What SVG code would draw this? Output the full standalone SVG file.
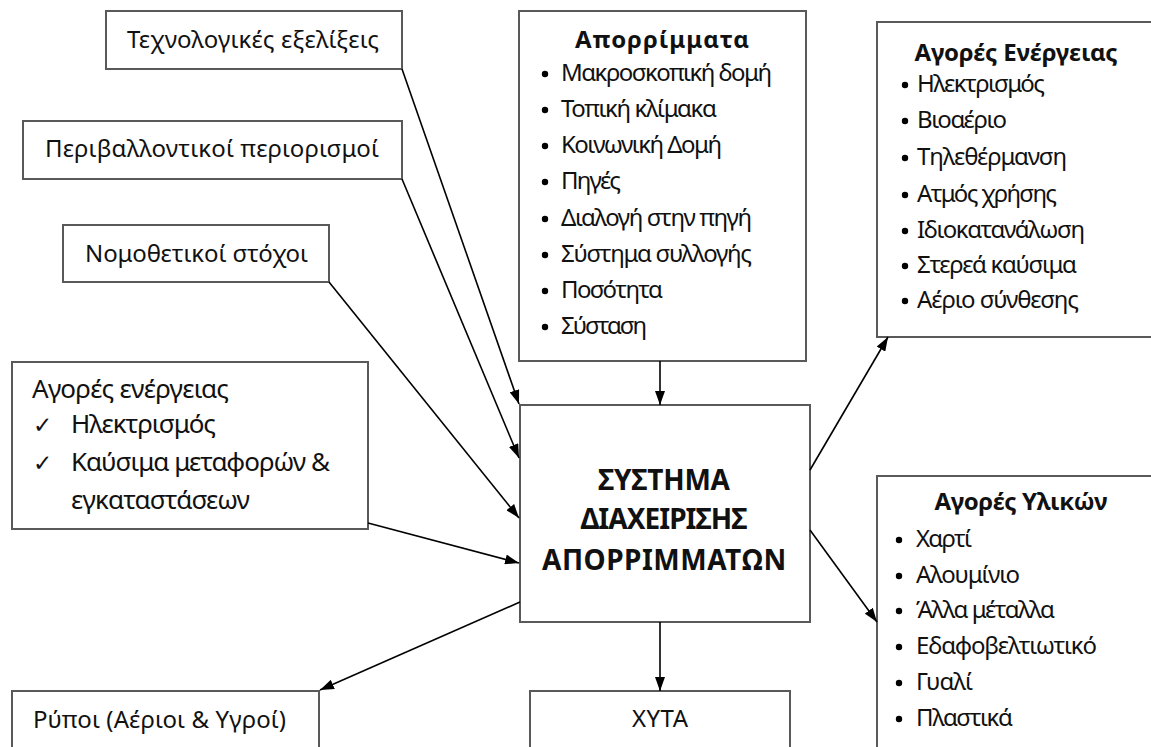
<svg xmlns="http://www.w3.org/2000/svg" width="1151" height="747" viewBox="0 0 1151 747">
<style>
.box{fill:#fff;stroke:#595959;stroke-width:2}
.t{font-family:"Noto Sans","DejaVu Sans",sans-serif;font-size:24px;fill:#111}
.b{font-family:"Noto Sans","DejaVu Sans",sans-serif;font-size:24px;font-weight:bold;fill:#111}
.c{font-family:"Noto Sans","DejaVu Sans",sans-serif;font-size:28px;font-weight:bold;fill:#111}
.l{font-family:"Noto Sans","DejaVu Sans",sans-serif;font-size:26px;fill:#111}
.ck{font-family:"DejaVu Sans",sans-serif;font-size:23px;fill:#111}
.con{stroke:#000;stroke-width:1.6;fill:none;marker-end:url(#ah)}
.dot{fill:#000}
</style>
<defs>
<marker id="ah" viewBox="0 0 14 10" refX="14" refY="5" markerWidth="14" markerHeight="10" markerUnits="userSpaceOnUse" orient="auto">
<path d="M0,0 L14,5 L0,10 z" fill="#000"/>
</marker>
</defs>
<rect width="1151" height="747" fill="#fff"/>

<g id="tech">
<rect class="box" x="106" y="11" width="296" height="58"/>
<text class="t" x="127" y="48" textLength="252" lengthAdjust="spacing">Τεχνολογικές εξελίξεις</text>
</g>
<g id="env">
<rect class="box" x="23" y="121" width="379" height="58"/>
<text class="t" x="45" y="157" textLength="334" lengthAdjust="spacing">Περιβαλλοντικοί περιορισμοί</text>
</g>
<g id="law">
<rect class="box" x="63" y="225" width="266" height="57"/>
<text class="t" x="85" y="262" textLength="223" lengthAdjust="spacing">Νομοθετικοί στόχοι</text>
</g>

<g id="waste">
<rect class="box" x="519" y="11" width="287" height="350"/>
<text class="b" x="662" y="48" text-anchor="middle" textLength="174" lengthAdjust="spacing">Απορρίμματα</text>
<circle class="dot" cx="545" cy="74" r="3.2"/><text class="t" x="561" y="81" textLength="211" lengthAdjust="spacing">Μακροσκοπική δομή</text>
<circle class="dot" cx="545" cy="110" r="3.2"/><text class="t" x="561" y="117" textLength="156" lengthAdjust="spacing">Τοπική κλίμακα</text>
<circle class="dot" cx="545" cy="146" r="3.2"/><text class="t" x="561" y="153" textLength="161" lengthAdjust="spacing">Κοινωνική Δομή</text>
<circle class="dot" cx="545" cy="182" r="3.2"/><text class="t" x="561" y="189" textLength="60" lengthAdjust="spacing">Πηγές</text>
<circle class="dot" cx="545" cy="219" r="3.2"/><text class="t" x="561" y="226" textLength="191" lengthAdjust="spacing">Διαλογή στην πηγή</text>
<circle class="dot" cx="545" cy="255" r="3.2"/><text class="t" x="561" y="262" textLength="191" lengthAdjust="spacing">Σύστημα συλλογής</text>
<circle class="dot" cx="545" cy="291" r="3.2"/><text class="t" x="561" y="298" textLength="102" lengthAdjust="spacing">Ποσότητα</text>
<circle class="dot" cx="545" cy="327" r="3.2"/><text class="t" x="561" y="334" textLength="86" lengthAdjust="spacing">Σύσταση</text>
</g>

<g id="energy">
<rect class="box" x="877" y="22" width="300" height="315"/>
<text class="b" x="1016" y="61" text-anchor="middle" textLength="203" lengthAdjust="spacing">Αγορές Ενέργειας</text>
<circle class="dot" cx="905" cy="85" r="3.2"/><text class="t" x="917" y="92" textLength="128" lengthAdjust="spacing">Ηλεκτρισμός</text>
<circle class="dot" cx="905" cy="121" r="3.2"/><text class="t" x="917" y="128" textLength="90" lengthAdjust="spacing">Βιοαέριο</text>
<circle class="dot" cx="905" cy="158" r="3.2"/><text class="t" x="917" y="165" textLength="150" lengthAdjust="spacing">Τηλεθέρμανση</text>
<circle class="dot" cx="905" cy="195" r="3.2"/><text class="t" x="917" y="202" textLength="140" lengthAdjust="spacing">Ατμός χρήσης</text>
<circle class="dot" cx="905" cy="231" r="3.2"/><text class="t" x="917" y="238" textLength="168" lengthAdjust="spacing">Ιδιοκατανάλωση</text>
<circle class="dot" cx="905" cy="266" r="3.2"/><text class="t" x="917" y="273" textLength="160" lengthAdjust="spacing">Στερεά καύσιμα</text>
<circle class="dot" cx="905" cy="301" r="3.2"/><text class="t" x="917" y="308" textLength="162" lengthAdjust="spacing">Αέριο σύνθεσης</text>
</g>

<g id="markets-left">
<rect class="box" x="12" y="362" width="356" height="167"/>
<text class="l" x="32" y="398" textLength="197" lengthAdjust="spacing">Αγορές ενέργειας</text>
<text class="ck" x="33" y="433">✓</text><text class="l" x="71" y="433" textLength="145" lengthAdjust="spacing">Ηλεκτρισμός</text>
<text class="ck" x="33" y="471">✓</text><text class="l" x="71" y="471" textLength="259" lengthAdjust="spacing">Καύσιμα μεταφορών &amp;</text>
<text class="l" x="71" y="509" textLength="179" lengthAdjust="spacing">εγκαταστάσεων</text>
</g>

<g id="system">
<rect class="box" x="520" y="405" width="290" height="217"/>
<text class="c" x="664" y="490" text-anchor="middle" textLength="132" lengthAdjust="spacing">ΣΥΣΤΗΜΑ</text>
<text class="c" x="664" y="529" text-anchor="middle" textLength="167" lengthAdjust="spacing">ΔΙΑΧΕΙΡΙΣΗΣ</text>
<text class="c" x="664" y="570" text-anchor="middle" textLength="244" lengthAdjust="spacing">ΑΠΟΡΡΙΜΜΑΤΩΝ</text>
</g>

<g id="materials">
<rect class="box" x="877" y="476" width="300" height="300"/>
<text class="b" x="1021" y="510" text-anchor="middle" textLength="173" lengthAdjust="spacing">Αγορές Υλικών</text>
<circle class="dot" cx="899" cy="540" r="3.2"/><text class="t" x="916" y="547" textLength="56" lengthAdjust="spacing">Χαρτί</text>
<circle class="dot" cx="899" cy="576" r="3.2"/><text class="t" x="916" y="583" textLength="104" lengthAdjust="spacing">Αλουμίνιο</text>
<circle class="dot" cx="899" cy="611" r="3.2"/><text class="t" x="916" y="618" textLength="139" lengthAdjust="spacing">Άλλα μέταλλα</text>
<circle class="dot" cx="899" cy="647" r="3.2"/><text class="t" x="916" y="654" textLength="181" lengthAdjust="spacing">Εδαφοβελτιωτικό</text>
<circle class="dot" cx="899" cy="683" r="3.2"/><text class="t" x="916" y="690" textLength="57" lengthAdjust="spacing">Γυαλί</text>
<circle class="dot" cx="899" cy="719" r="3.2"/><text class="t" x="916" y="726" textLength="97" lengthAdjust="spacing">Πλαστικά</text>
</g>

<g id="pollutants">
<rect class="box" x="12" y="691" width="307" height="100"/>
<text class="t" x="33" y="728" textLength="253" lengthAdjust="spacing">Ρύποι (Αέριοι &amp; Υγροί)</text>
</g>

<g id="landfill">
<rect class="box" x="530" y="691" width="260" height="100"/>
<text class="t" x="660" y="727" text-anchor="middle" textLength="56" lengthAdjust="spacing">ΧΥΤΑ</text>
</g>

<g id="connectors">
<line class="con" x1="402" y1="69" x2="519" y2="404"/>
<line class="con" x1="402" y1="179" x2="519" y2="458"/>
<line class="con" x1="329" y1="282" x2="519" y2="518"/>
<line class="con" x1="368" y1="523" x2="519" y2="563"/>
<line class="con" x1="660" y1="361" x2="660" y2="405"/>
<line class="con" x1="810" y1="470" x2="888" y2="337"/>
<line class="con" x1="810" y1="530" x2="877" y2="622"/>
<line class="con" x1="660" y1="622" x2="660" y2="691"/>
<line class="con" x1="520" y1="602" x2="320" y2="690"/>
</g>
</svg>
